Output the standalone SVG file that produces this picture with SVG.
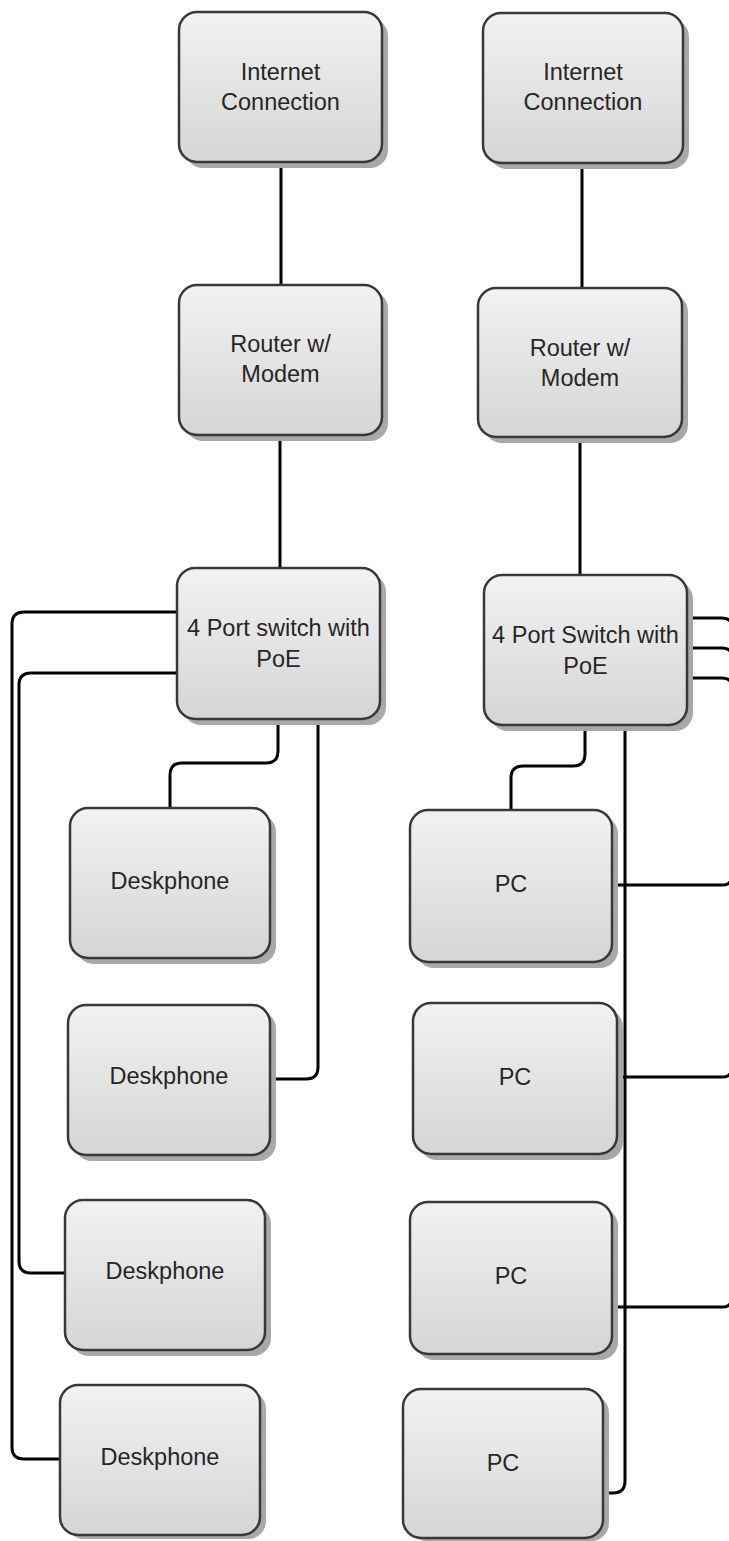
<svg xmlns="http://www.w3.org/2000/svg" width="729" height="1541" viewBox="0 0 729 1541">
  <defs>
    <linearGradient id="fillGrad" x1="0" y1="0" x2="0" y2="1">
      <stop offset="0" stop-color="#f2f2f2"/>
      <stop offset="1" stop-color="#d5d5d5"/>
    </linearGradient>
    <filter id="blur" x="-10%" y="-10%" width="120%" height="120%">
      <feGaussianBlur stdDeviation="0.7"/>
    </filter>
  </defs>
  <style>
    .box { fill: url(#fillGrad); stroke: #383838; stroke-width: 2.5; }
    .shadow { fill: #a8a8a8; filter: url(#blur); }
    .label { font-family: "Liberation Sans", Arial, sans-serif; font-size: 23.5px; fill: #262626; text-anchor: middle; }
    .conn { fill: none; stroke: #000000; stroke-width: 3; }
  </style>

  <g id="connectors">
    <path class="conn" d="M281,162 V285"/>
    <path class="conn" d="M582,163 V288"/>
    <path class="conn" d="M280,435 V568"/>
    <path class="conn" d="M580,437 V575"/>
    <path class="conn" d="M278,719 V751 Q278,763 266,763 H182 Q170,763 170,775 V808"/>
    <path class="conn" d="M318,719 V1067 Q318,1079 306,1079 H270"/>
    <path class="conn" d="M177,612 H24 Q12,612 12,624 V1447 Q12,1459 24,1459 H60"/>
    <path class="conn" d="M177,673 H31 Q19,673 19,685 V1261 Q19,1273 31,1273 H65"/>
    <path class="conn" d="M585,725 V754 Q585,766 573,766 H523 Q511,766 511,778 V810"/>
    <path class="conn" d="M625,725 V1481 Q625,1493 613,1493 H603"/>
    <path class="conn" d="M687,618 H722 Q732,618 732,628 V1297 Q732,1307 722,1307 H612"/>
    <path class="conn" d="M687,648 H722 Q732,648 732,658 V1067 Q732,1077 722,1077 H617"/>
    <path class="conn" d="M687,678 H722 Q732,678 732,688 V875 Q732,885 722,885 H612"/>
  </g>

  <g id="internet-left">
    <rect class="shadow" x="185" y="18" width="203" height="150" rx="18"/>
    <rect class="box" x="179" y="12" width="203" height="150" rx="18"/>
    <text class="label" x="280.5" y="80">Internet</text>
    <text class="label" x="280.5" y="110">Connection</text>
  </g>
  <g id="router-left">
    <rect class="shadow" x="185" y="291" width="203" height="150" rx="18"/>
    <rect class="box" x="179" y="285" width="203" height="150" rx="18"/>
    <text class="label" x="280.5" y="352">Router w/</text>
    <text class="label" x="280.5" y="382">Modem</text>
  </g>
  <g id="switch-left">
    <rect class="shadow" x="183" y="574" width="203" height="151" rx="18"/>
    <rect class="box" x="177" y="568" width="203" height="151" rx="18"/>
    <text class="label" x="278.5" y="636">4 Port switch with</text>
    <text class="label" x="278.5" y="667">PoE</text>
  </g>
  <g id="deskphone-1">
    <rect class="shadow" x="76" y="814" width="200" height="150" rx="18"/>
    <rect class="box" x="70" y="808" width="200" height="150" rx="18"/>
    <text class="label" x="170" y="889">Deskphone</text>
  </g>
  <g id="deskphone-2">
    <rect class="shadow" x="74" y="1011" width="202" height="150" rx="18"/>
    <rect class="box" x="68" y="1005" width="202" height="150" rx="18"/>
    <text class="label" x="169" y="1084">Deskphone</text>
  </g>
  <g id="deskphone-3">
    <rect class="shadow" x="71" y="1206" width="200" height="150" rx="18"/>
    <rect class="box" x="65" y="1200" width="200" height="150" rx="18"/>
    <text class="label" x="165" y="1279">Deskphone</text>
  </g>
  <g id="deskphone-4">
    <rect class="shadow" x="66" y="1391" width="200" height="148" rx="18"/>
    <rect class="box" x="60" y="1385" width="200" height="150" rx="18"/>
    <text class="label" x="160" y="1465">Deskphone</text>
  </g>

  <g id="internet-right">
    <rect class="shadow" x="489" y="19" width="200" height="150" rx="18"/>
    <rect class="box" x="483" y="13" width="200" height="150" rx="18"/>
    <text class="label" x="583" y="80">Internet</text>
    <text class="label" x="583" y="110">Connection</text>
  </g>
  <g id="router-right">
    <rect class="shadow" x="484" y="294" width="204" height="149" rx="18"/>
    <rect class="box" x="478" y="288" width="204" height="149" rx="18"/>
    <text class="label" x="580" y="356">Router w/</text>
    <text class="label" x="580" y="386">Modem</text>
  </g>
  <g id="switch-right">
    <rect class="shadow" x="490" y="581" width="203" height="150" rx="18"/>
    <rect class="box" x="484" y="575" width="203" height="150" rx="18"/>
    <text class="label" x="585.5" y="643">4 Port Switch with</text>
    <text class="label" x="585.5" y="674">PoE</text>
  </g>
  <g id="pc-1">
    <rect class="shadow" x="416" y="816" width="202" height="152" rx="18"/>
    <rect class="box" x="410" y="810" width="202" height="152" rx="18"/>
    <text class="label" x="511" y="892">PC</text>
  </g>
  <g id="pc-2">
    <rect class="shadow" x="419" y="1009" width="204" height="151" rx="18"/>
    <rect class="box" x="413" y="1003" width="204" height="151" rx="18"/>
    <text class="label" x="515" y="1085">PC</text>
  </g>
  <g id="pc-3">
    <rect class="shadow" x="416" y="1208" width="202" height="152" rx="18"/>
    <rect class="box" x="410" y="1202" width="202" height="152" rx="18"/>
    <text class="label" x="511" y="1284">PC</text>
  </g>
  <g id="pc-4">
    <rect class="shadow" x="409" y="1395" width="200" height="146" rx="18"/>
    <rect class="box" x="403" y="1389" width="200" height="149" rx="18"/>
    <text class="label" x="503" y="1471">PC</text>
  </g>
</svg>
